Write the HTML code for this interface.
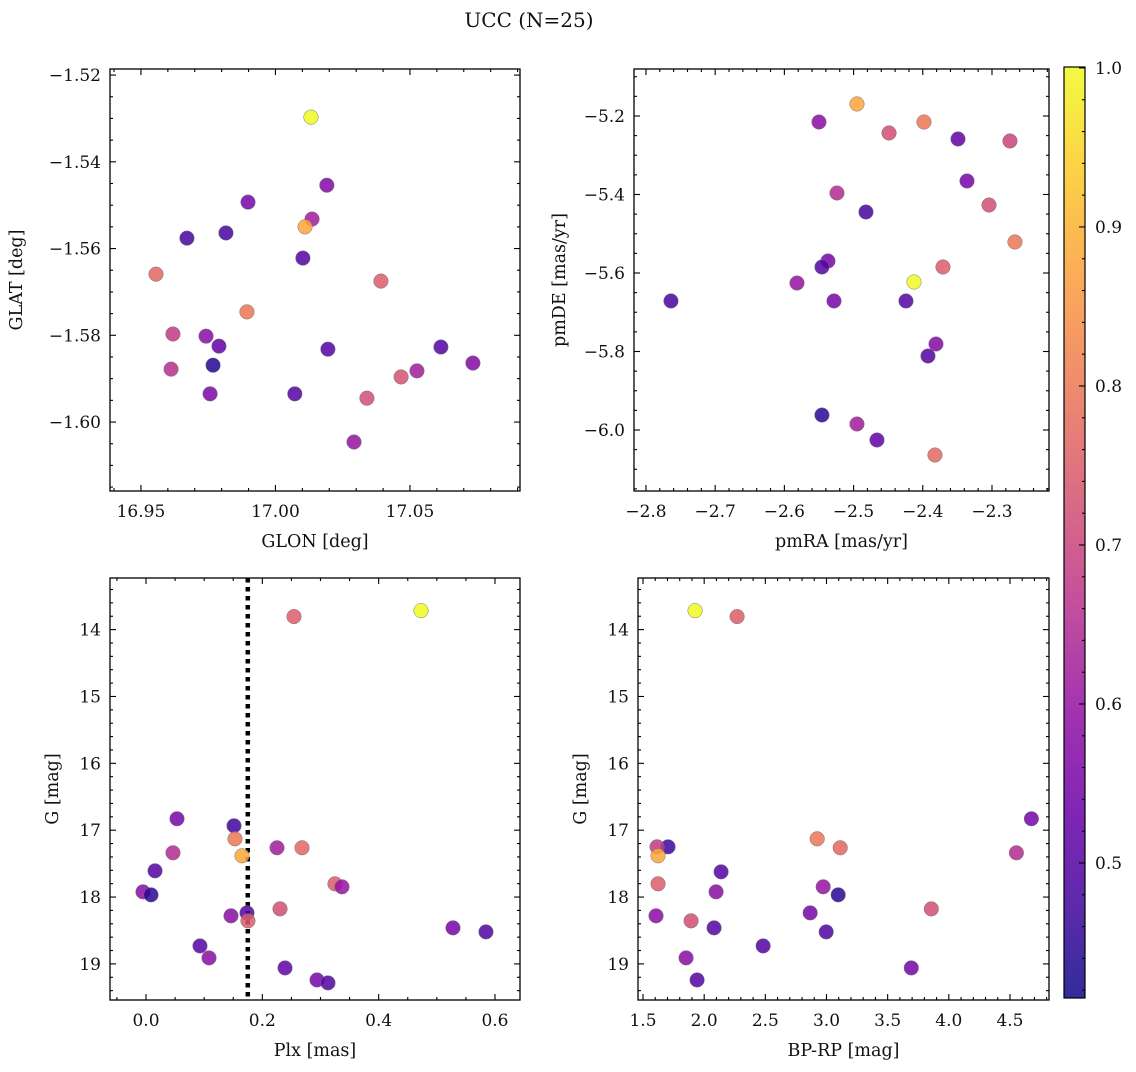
<!DOCTYPE html>
<html><head><meta charset="utf-8"><style>
html,body{margin:0;padding:0;background:#fff;}
svg text{font-family:"DejaVu Serif","Liberation Serif",serif;fill:#111;}
</style></head><body>
<svg id="fig" width="1136" height="1067" viewBox="0 0 1136 1067" xmlns="http://www.w3.org/2000/svg">
<text x="529" y="27" font-size="20" text-anchor="middle">UCC (N=25)</text>
</svg>
<script>
// ---- data ----
const glon=[17.0132,17.0191,16.9898,17.0136,17.0110,16.9671,16.9816,17.0102,16.9556,17.0392,16.9894,16.9619,16.9742,16.9790,17.0195,17.0615,16.9768,17.0734,16.9612,17.0526,17.0467,16.9757,17.0072,17.0340,17.0292];
const glat=[-1.5297,-1.5454,-1.5493,-1.5532,-1.5550,-1.5576,-1.5564,-1.5622,-1.5659,-1.5675,-1.5746,-1.5797,-1.5802,-1.5825,-1.5832,-1.5827,-1.5869,-1.5864,-1.5878,-1.5882,-1.5896,-1.5935,-1.5935,-1.5945,-1.6046];
const probTL=[1.0,.57,.55,.62,.88,.48,.48,.50,.77,.75,.80,.68,.58,.52,.50,.50,.44,.57,.66,.62,.73,.56,.50,.72,.60];
const pmra=[-2.4951,-2.3983,-2.5500,-2.4488,-2.3491,-2.2740,-2.3361,-2.5240,-2.3043,-2.4821,-2.2668,-2.5370,-2.5457,-2.3708,-2.4127,-2.5818,-2.7639,-2.5283,-2.4243,-2.3809,-2.3925,-2.5457,-2.4951,-2.4662,-2.3824];
const pmde=[-5.1694,-5.2153,-5.2153,-5.2433,-5.2586,-5.2637,-5.3656,-5.3962,-5.4268,-5.4446,-5.5210,-5.5694,-5.5847,-5.5847,-5.6229,-5.6255,-5.6713,-5.6713,-5.6713,-5.7809,-5.8115,-5.9618,-5.9847,-6.0255,-6.0637];
const probTR=[.88,.80,.58,.72,.52,.70,.55,.65,.72,.48,.80,.55,.50,.75,1.0,.60,.48,.55,.50,.57,.50,.45,.62,.52,.77];
const plx=[0.4728,0.2544,0.0533,0.1513,0.1530,0.0464,0.1650,0.2252,0.2682,0.0155,0.3249,0.3369,-0.0052,0.0086,0.2304,0.1461,0.1736,0.1753,0.5278,0.5845,0.0928,0.1083,0.2390,0.2940,0.3129];
const gmagBL=[13.716,13.805,16.829,16.934,17.129,17.338,17.383,17.263,17.263,17.608,17.802,17.847,17.922,17.967,18.177,18.281,18.237,18.356,18.461,18.521,18.731,18.910,19.060,19.240,19.284];
const probBL=[1.0,.75,.55,.47,.80,.65,.88,.62,.77,.50,.75,.60,.58,.45,.72,.58,.50,.75,.55,.50,.50,.58,.52,.55,.50];
const bprp=[1.9255,2.2692,4.6751,1.7046,1.6146,1.6227,2.9239,3.1121,4.5524,2.1383,1.6227,2.9730,2.0974,3.0957,3.8568,1.6064,2.8666,1.8928,2.0810,2.9975,2.4820,1.8519,3.6931,1.9419];
const gmagBR=[13.716,13.805,16.829,17.249,17.249,17.383,17.129,17.263,17.338,17.623,17.802,17.847,17.922,17.967,18.177,18.281,18.237,18.356,18.461,18.521,18.731,18.910,19.060,19.240];
const probBR=[1.0,.75,.55,.47,.68,.88,.80,.77,.65,.50,.75,.60,.58,.45,.72,.58,.55,.72,.50,.50,.50,.58,.55,.50];
const plxCut=[0.175];
const cbTicks=[0.5,0.6,0.7,0.8,0.9,1.0];
const cbMin=0.4151, cbMax=1.0006;

const NS='http://www.w3.org/2000/svg';
const svg=document.getElementById('fig');
function mk(tag,attrs,parent){const e=document.createElementNS(NS,tag);for(const k in attrs)e.setAttribute(k,attrs[k]);(parent||svg).appendChild(e);return e;}
const stops=['#0d0887','#41049d','#6a00a8','#8f0da4','#b12a90','#cc4778','#e16462','#f2844b','#fca636','#fcce25','#f0f921'];
function hex(h){return [1,3,5].map(i=>parseInt(h.substr(i,2),16));}
function plasma(v){let t=(v-cbMin)/(cbMax-cbMin);t=Math.max(0,Math.min(1,t));const s=t*10,i=Math.min(9,Math.floor(s)),f=s-i;const a=hex(stops[i]),b=hex(stops[i+1]);return 'rgb('+a.map((c,k)=>Math.round(c+(b[k]-c)*f)).join(',')+')';}
function fmt(v,d){const s=Math.abs(v).toFixed(d);return (v<-1e-9?'\u2212':'')+s;}

function panel(o){
  const g=mk('g',{});
  
  
  const X=v=>o.x0+(v-o.xmin)/(o.xmax-o.xmin)*(o.x1-o.x0);
  const Y=o.yinv?(v=>o.y0+(v-o.ymin)/(o.ymax-o.ymin)*(o.y1-o.y0)):(v=>o.y1-(v-o.ymin)/(o.ymax-o.ymin)*(o.y1-o.y0));
  const tg=mk('g',{stroke:'#000','stroke-width':1.1},g);
  
  
  const eps=1e-9;
  for(let k=Math.ceil(o.xmin/o.xminor-eps);k*o.xminor<=o.xmax+eps;k++){
    const v=k*o.xminor,px=X(v),maj=Math.abs(v/o.xmajor-Math.round(v/o.xmajor))<1e-6,L=maj?6:3;
    mk('line',{x1:px,x2:px,y1:o.y1,y2:o.y1-L},tg);mk('line',{x1:px,x2:px,y1:o.y0,y2:o.y0+L},tg);
    if(maj){const t=mk('text',{x:px,y:o.y1+26,'font-size':17,'text-anchor':'middle',stroke:'none'},g);t.textContent=fmt(v,o.xdec);
      
      }
  }
  for(let k=Math.ceil(o.ymin/o.yminor-eps);k*o.yminor<=o.ymax+eps;k++){
    const v=k*o.yminor,py=Y(v),maj=Math.abs(v/o.ymajor-Math.round(v/o.ymajor))<1e-6,L=maj?6:3;
    mk('line',{x1:o.x0,x2:o.x0+L,y1:py,y2:py},tg);mk('line',{x1:o.x1,x2:o.x1-L,y1:py,y2:py},tg);
    if(maj){const t=mk('text',{x:o.x0-9,y:py+6,'font-size':17,'text-anchor':'end',stroke:'none'},g);t.textContent=fmt(v,o.ydec);
      
      }
  }
  if(o.vline){o.vline.forEach(v=>{const l=mk('line',{x1:X(v),x2:X(v),y1:o.y0,y2:o.y1,stroke:'#000','stroke-width':4.5,'stroke-dasharray':'4.5,4.5'},g);
    
    });}
  for(let i=0;i<o.xs.length;i++){
    const c=mk('circle',{cx:X(o.xs[i]),cy:Y(o.ys[i]),r:7.3,fill:plasma(o.cs[i]),'fill-opacity':0.85,stroke:'#777','stroke-width':0.5},g);
    
    
  }
  const fr=mk('rect',{x:o.x0,y:o.y0,width:o.x1-o.x0,height:o.y1-o.y0,fill:'none',stroke:'#000','stroke-width':1.3},g);
  
  
  const xl=mk('text',{x:(o.x0+o.x1)/2,y:o.y1+56,'font-size':17.5,'text-anchor':'middle'},g);xl.textContent=o.xlabel;
  
  
  const yx=o.ylx,yy=(o.y0+o.y1)/2;
  const yl=mk('text',{x:yx,y:yy,'font-size':17.5,'text-anchor':'middle',transform:`rotate(-90 ${yx} ${yy})`},g);yl.textContent=o.ylabel;
  
  
}

panel({name:'glon-glat-panel',x0:110,x1:520,y0:69,y1:491,xmin:16.9385,xmax:17.0909,ymin:-1.6159,ymax:-1.5186,xmajor:0.05,xminor:0.01,ymajor:0.02,yminor:0.005,xdec:2,ydec:2,xs:glon,ys:glat,cs:probTL,xlabel:'GLON [deg]',ylabel:'GLAT [deg]',ylx:22});
panel({name:'pm-panel',x0:634,x1:1049,y0:69,y1:491,xmin:-2.8173,xmax:-2.2176,ymin:-6.1554,ymax:-5.0803,xmajor:0.1,xminor:0.02,ymajor:0.2,yminor:0.05,xdec:1,ydec:1,xs:pmra,ys:pmde,cs:probTR,xlabel:'pmRA [mas/yr]',ylabel:'pmDE [mas/yr]',ylx:565});
panel({name:'plx-g-panel',x0:110,x1:520,y0:578,y1:1000,xmin:-0.0619,xmax:0.643,ymin:13.228,ymax:19.54,yinv:true,xmajor:0.2,xminor:0.05,ymajor:1,yminor:0.2,xdec:1,ydec:0,xs:plx,ys:gmagBL,cs:probBL,xlabel:'Plx [mas]',ylabel:'G [mag]',ylx:58,vline:plxCut});
panel({name:'cmd-panel',x0:638,x1:1049,y0:578,y1:1000,xmin:1.459,xmax:4.819,ymin:13.228,ymax:19.54,yinv:true,xmajor:0.5,xminor:0.1,ymajor:1,yminor:0.2,xdec:1,ydec:0,xs:bprp,ys:gmagBR,cs:probBR,xlabel:'BP-RP [mag]',ylabel:'G [mag]',ylx:586});

const cb=mk('g',{});


const cbx=1064,cbw=21,cbt=67,cbb=998;
const defs=mk('defs',{},cb);
const lg=mk('linearGradient',{id:'cbg',x1:0,y1:1,x2:0,y2:0},defs);
stops.forEach((s,i)=>mk('stop',{offset:i/10,'stop-color':s},lg));
mk('rect',{x:cbx,y:cbt,width:cbw,height:cbb-cbt,fill:'url(#cbg)','fill-opacity':0.85},cb);
const CY=v=>cbb-(v-cbMin)/(cbMax-cbMin)*(cbb-cbt);
for(let k=21;k<=50;k++){const v=k*0.02;const py=CY(v);const maj=k%5===0;
  mk('line',{x1:cbx+cbw,x2:cbx+cbw-(maj?6:3),y1:py,y2:py,stroke:'#000','stroke-width':1.1},cb);}
cbTicks.forEach(v=>{const t=mk('text',{x:cbx+cbw+10,y:CY(v)+6,'font-size':17},cb);t.textContent=v.toFixed(1);
  
  });
mk('rect',{x:cbx,y:cbt,width:cbw,height:cbb-cbt,fill:'none',stroke:'#000','stroke-width':1.2},cb);
</script>
</body></html>
